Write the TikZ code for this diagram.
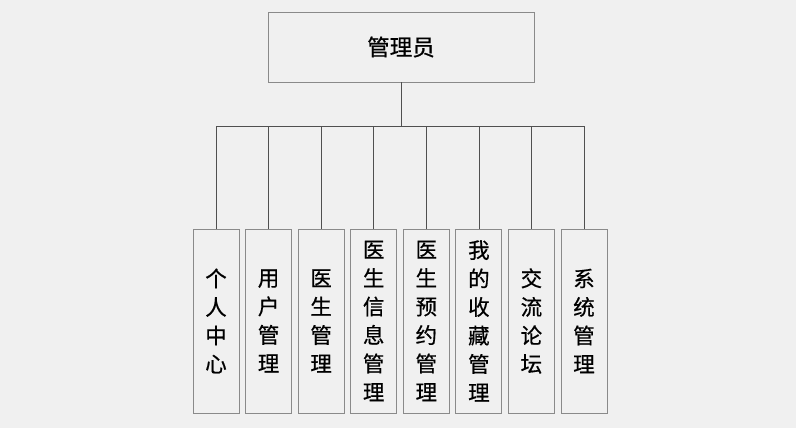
\documentclass[tikz,border=0pt]{standalone}
\usepackage{fontspec}
\newfontfamily\cjk[FakeBold=0.6]{Noto Sans CJK SC}
\definecolor{bg}{HTML}{F0F0F0}
\definecolor{boxline}{HTML}{8A8A8A}
\definecolor{conn}{HTML}{505050}
\begin{document}
\begin{tikzpicture}[x=1pt,y=-1pt,
  box/.style={draw=boxline, line width=0.9pt, fill=bg, inner sep=0pt},
  topbox/.style={box, minimum width=266pt, minimum height=70pt, font=\cjk\fontsize{22.5}{26}\selectfont},
  leaf/.style={box, minimum width=46pt, minimum height=184pt, align=center, font=\cjk\fontsize{21.5}{28.5}\selectfont},
  wire/.style={draw=conn, line width=0.8pt}]
\fill[bg] (0,0) rectangle (796,428);
\useasboundingbox (0,0) rectangle (796,428);
\node[topbox] (top) at (401,47) {管理员};
\coordinate (bus) at (401,126);
\node[leaf] (c1) at (216,321) {个\\人\\中\\心};
\node[leaf] (c2) at (268.6,321) {用\\户\\管\\理};
\node[leaf] (c3) at (321.1,321) {医\\生\\管\\理};
\node[leaf] (c4) at (373.7,321) {医\\生\\信\\息\\管\\理};
\node[leaf] (c5) at (426.3,321) {医\\生\\预\\约\\管\\理};
\node[leaf] (c6) at (478.9,321) {我\\的\\收\\藏\\管\\理};
\node[leaf] (c7) at (531.4,321) {交\\流\\论\\坛};
\node[leaf] (c8) at (584,321) {系\\统\\管\\理};
\draw[wire] (top.south) -- (bus);
\foreach \c in {c1,c2,c3,c4,c5,c6,c7,c8}
  \draw[wire] (\c.north) |- (bus);
\end{tikzpicture}
\end{document}
